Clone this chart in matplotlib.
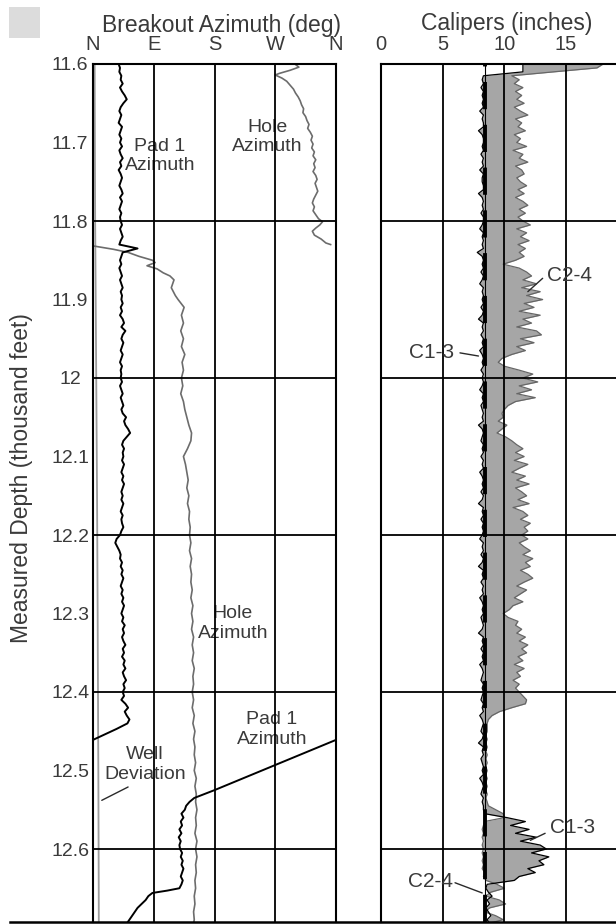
import numpy as np
import matplotlib.pyplot as plt
from matplotlib.lines import Line2D
from matplotlib.patches import Rectangle

plt.rcParams['font.family'] = ['Liberation Sans', 'DejaVu Sans']
TXT = '#3a3a3a'

# ---- breakout azimuth track (degrees clockwise from north) ----
pad1_depth_upper = np.round(np.arange(11.600, 12.4401, 0.005), 3)
pad1_az_upper = [
    38, 40, 39, 42, 41, 44, 40, 43, 47, 50,
    45, 41, 39, 42, 40, 38, 43, 41, 39, 42,
    40, 43, 39, 41, 44, 40, 42, 38, 41, 43,
    41, 39, 42, 44, 40, 43, 41, 39, 42, 40,
    41, 43, 40, 42, 44, 41, 39, 66, 44, 42,
    40, 42, 39, 41, 43, 40, 42, 44, 41, 43,
    42, 44, 41, 43, 40, 44, 46, 42, 48, 44,
    42, 45, 43, 41, 44, 42, 40, 43, 41, 42,
    41, 43, 40, 42, 44, 41, 43, 45, 42, 44,
    49, 46, 48, 52, 55, 50, 45, 43, 46, 44,
    45, 43, 46, 44, 42, 45, 43, 46, 44, 42,
    44, 42, 45, 43, 41, 44, 42, 43, 45, 42,
    40, 35, 33, 36, 39, 41, 40, 43, 41, 44,
    42, 45, 43, 41, 44, 42, 45, 43, 46, 44,
    42, 45, 43, 47, 44, 46, 43, 45, 48, 44,
    46, 43, 47, 45, 48, 44, 46, 49, 45, 47,
    44, 46, 42, 48, 52, 47, 50, 54, 51,
]
pad1_depth_lower = [
    12.447, 12.455, 12.461, 12.461, 12.477, 12.493, 12.509, 12.525, 12.535,
    12.540, 12.545,
    12.550, 12.555, 12.560, 12.565, 12.570, 12.575, 12.580, 12.585, 12.590,
    12.595, 12.600, 12.605, 12.610, 12.615, 12.620, 12.625, 12.630, 12.635,
    12.640, 12.645, 12.650,
    12.653, 12.656, 12.660, 12.665, 12.670, 12.675, 12.680, 12.685, 12.690,
    12.695,
]
pad1_az_lower = [
    35, 15, 0, 360, 315, 270, 225, 180, 150,
    143, 138,
    136, 131, 134, 130, 132, 128, 131, 127, 130,
    128, 129, 132, 130, 133, 131, 134, 132, 130,
    133, 131, 128,
    110, 88, 82, 78, 72, 66, 62, 58, 54,
    50,
]

hole_depth_top = [
    11.600, 11.604, 11.608, 11.612, 11.614, 11.618, 11.622, 11.627, 11.632,
    11.637, 11.642, 11.647, 11.652, 11.657, 11.662, 11.667, 11.672, 11.677,
    11.682, 11.687, 11.692, 11.697, 11.702, 11.707, 11.712, 11.717, 11.722,
    11.727, 11.732, 11.737, 11.742, 11.747, 11.752, 11.757, 11.762, 11.767,
    11.772, 11.777, 11.782, 11.787, 11.792, 11.797, 11.801, 11.805, 11.809,
    11.813, 11.818, 11.823, 11.828, 11.830,
    11.832, 11.836, 11.840, 11.845, 11.850, 11.853, 11.857, 11.861, 11.866,
    11.870, 11.875, 11.880, 11.885, 11.890, 11.895,
]
hole_az_top = [
    299, 305, 292, 276, 270, 280, 287, 292, 297,
    300, 304, 307, 309, 312, 311, 315, 317, 320,
    318, 322, 325, 323, 326, 324, 328, 326, 330,
    327, 329, 326, 330, 332, 329, 331, 333, 330,
    327, 325, 328, 326, 330, 334, 340, 336, 330,
    325, 328, 338, 345, 352,
    2, 30, 52, 68, 88, 92, 80, 95, 104,
    114, 120, 118, 116, 119, 122,
]
hole_depth_low = np.round(np.arange(11.90, 12.7001, 0.01), 2)
hole_az_low = [
    126, 135, 131, 134, 130, 134, 131, 136, 132, 134,
    131, 133, 130, 134, 136, 139, 142, 146, 145, 140,
    134, 137, 139, 141, 139, 142, 140, 143, 142, 144,
    143, 145, 143, 146, 144, 146, 145, 147, 145, 148,
    146, 148, 146, 149, 147, 149, 147, 150, 148, 149,
    147, 149, 147, 150, 148, 151, 149, 151, 150, 152,
    150, 153, 151, 153, 152, 154, 152, 153, 151, 154,
    152, 154, 152, 153, 151, 152, 150, 151, 149, 150,
    148,
]

dev_depth = [11.60, 11.65, 11.70, 11.75, 11.80, 11.85, 11.90, 11.95, 12.00,
             12.05, 12.10, 12.15, 12.20, 12.25, 12.30, 12.35, 12.40, 12.45,
             12.50, 12.55, 12.60, 12.65, 12.70]
dev_deg = [2.5, 2.6, 2.8, 3.0, 3.2, 3.6, 4.0, 4.4, 4.8, 5.2, 5.6, 6.0,
           6.3, 6.6, 6.9, 7.1, 7.4, 7.6, 7.9, 8.1, 8.3, 8.5, 8.6]

# ---- caliper track (inches) ----
cal_depth = np.round(np.arange(11.600, 12.6951, 0.005), 3)
c13 = [
    11.5, 11.5, 11.5, 8.3, 8.2, 8.3, 8.1, 8.3, 8.2, 8.3,
    8.2, 8.3, 8.0, 8.3, 8.2, 8.3, 8.3, 7.9, 8.2, 8.3,
    8.3, 8.2, 8.3, 8.1, 8.3, 8.2, 8.3, 8.0, 8.3, 8.2,
    8.2, 8.3, 8.3, 7.9, 8.2, 8.3, 8.2, 8.3, 8.1, 8.3,
    8.3, 8.2, 8.0, 8.3, 8.2, 8.3, 8.2, 8.3, 7.8, 8.2,
    8.3, 8.2, 8.3, 8.1, 8.3, 8.2, 8.0, 8.3, 8.2, 8.3,
    8.2, 8.3, 8.1, 8.3, 8.2, 7.9, 8.3, 8.2, 8.3, 8.1,
    8.3, 8.2, 8.3, 8.0, 8.2, 8.3, 8.2, 8.3, 8.1, 8.3,
    8.2, 8.3, 8.2, 8.0, 8.3, 8.2, 8.3, 8.1, 8.2, 8.3,
    8.2, 8.3, 7.9, 8.2, 8.3, 8.2, 8.1, 8.3, 8.2, 8.3,
    8.1, 8.3, 8.2, 8.3, 8.0, 8.2, 8.3, 8.2, 8.3, 8.1,
    8.3, 8.2, 7.9, 8.3, 8.2, 8.3, 8.1, 8.3, 8.2, 8.3,
    8.2, 8.0, 8.3, 8.2, 8.3, 8.1, 8.3, 8.2, 7.9, 8.3,
    8.2, 8.3, 8.1, 8.3, 8.2, 8.3, 8.0, 8.2, 8.3, 8.2,
    8.3, 8.1, 8.2, 8.3, 8.2, 7.9, 8.3, 8.2, 8.3, 8.1,
    8.3, 8.2, 8.3, 8.0, 8.2, 8.3, 8.2, 8.1, 8.3, 8.2,
    8.3, 8.2, 8.1, 8.3, 8.2, 8.3, 8.0, 8.2, 8.3, 8.2,
    8.1, 8.3, 8.2, 7.9, 8.3, 8.2, 8.3, 8.1, 8.2, 8.3,
    8.2, 8.3, 8.0, 8.2, 8.3, 8.2, 8.1, 8.3, 8.2, 8.3,
    8.3, 8.4, 10.2, 11.7, 10.5, 12.0, 10.9, 12.6, 11.3, 12.9,
    13.4, 12.2, 13.6, 12.8, 13.2, 11.9, 12.5, 11.2, 10.8, 8.6,
    8.5, 8.7, 9.0, 8.6, 8.8, 8.5, 8.7, 8.9, 8.6, 8.8,
]
c24 = [
    18.0, 17.5, 14.0, 10.6, 11.2, 10.8, 11.5, 10.9, 11.4, 11.0,
    11.6, 10.8, 11.3, 11.9, 10.9, 11.4, 11.1, 11.7, 10.8, 11.3,
    11.0, 11.8, 10.7, 11.5, 11.2, 11.9, 10.9, 11.4, 11.6, 11.0,
    11.3, 11.8, 11.1, 11.6, 10.9, 11.5, 11.9, 11.2, 11.7, 11.1,
    11.5, 12.1, 11.0, 11.8, 11.3, 12.0, 11.1, 11.7, 11.2, 11.6,
    10.9, 9.9, 11.2, 11.8, 12.2, 11.5, 12.6, 11.4, 12.9, 11.8,
    13.1, 11.6, 12.4, 11.2, 12.9, 11.5, 12.2, 11.0, 12.6, 13.0,
    11.3, 12.4, 11.0, 11.7, 10.6, 9.8, 9.5, 10.0, 11.2, 12.3,
    11.5, 12.7, 11.2, 12.2, 11.0, 12.5, 10.9, 10.3, 10.0, 9.8,
    9.9, 9.5, 10.2, 9.8, 9.4, 10.1, 10.6, 11.0, 11.5, 10.9,
    11.6, 10.8, 11.9, 11.2, 10.6, 11.7, 11.0, 12.0, 10.9, 11.4,
    11.8, 11.1, 12.0, 10.7, 11.5, 11.9, 11.3, 12.1, 11.6, 11.9,
    11.4, 11.9, 11.2, 11.6, 12.1, 11.5, 12.3, 11.7, 12.1, 11.3,
    11.9, 12.3, 11.6, 11.0, 11.8, 11.3, 10.8, 11.5, 10.7, 10.4,
    9.9, 10.3, 11.1, 10.9, 11.4, 11.0, 11.7, 11.2, 11.9, 11.4,
    11.8, 11.1, 11.5, 10.8, 11.6, 11.0, 11.3, 10.7, 11.2, 10.9,
    11.2, 11.5, 11.8, 11.7, 10.6, 9.6, 9.0, 8.7, 8.6, 8.6,
    8.6, 8.5, 8.6, 8.5, 8.6, 8.5, 8.6, 8.5, 8.6, 8.5,
    8.6, 8.5, 8.6, 8.5, 8.6, 8.5, 8.6, 8.5, 8.6, 8.7,
    9.3, 9.9, 10.0, 8.4, 8.3, 8.2, 8.3, 8.2, 8.3, 8.2,
    8.3, 8.2, 8.3, 8.2, 8.3, 8.2, 8.4, 8.3, 8.5, 9.4,
    10.0, 8.9, 8.5, 9.6, 10.1, 8.8, 8.4, 9.3, 9.9, 8.7,
]
bit_size = 8.45

az_ticks = [0, 90, 180, 270, 360]
az_labels = ['N', 'E', 'S', 'W', 'N']
cal_ticks = [0, 5, 10, 15]
depth_ticks = [11.6, 11.7, 11.8, 11.9, 12.0, 12.1, 12.2, 12.3, 12.4, 12.5, 12.6]
depth_labels = ['11.6', '11.7', '11.8', '11.9', '12', '12.1', '12.2',
                '12.3', '12.4', '12.5', '12.6']
grid_depths = [11.8, 12.0, 12.2, 12.4, 12.6]


def break_wraps(az, depth):
    # insert gaps where the azimuth wraps through north
    az = np.asarray(az, float)
    depth = np.asarray(depth, float)
    cut = np.where(np.abs(np.diff(az)) > 180)[0] + 1
    return np.insert(az, cut, np.nan), np.insert(depth, cut, np.nan)


W, H = 616, 924
fig = plt.figure(figsize=(W / 100, H / 100), dpi=100)


def box(x0, y0, w, h):
    return [x0 / W, 1 - (y0 + h) / H, w / W, h / H]


ax1 = fig.add_axes(box(93, 64, 243, 858))
ax2 = fig.add_axes(box(381, 64, 235, 858))
depth_bottom = 11.6 + 858 / 785

# azimuth track
pad1_az, pad1_d = break_wraps(pad1_az_upper + pad1_az_lower,
                              list(pad1_depth_upper) + pad1_depth_lower)
hole_az, hole_d = break_wraps(hole_az_top + hole_az_low,
                              hole_depth_top + list(hole_depth_low))
ax1.plot(dev_deg, dev_depth, color='#9c9c9c', lw=1.3, zorder=2)
ax1.plot(hole_az, hole_d, color='#6c6c6c', lw=1.2, zorder=2)
ax1.plot(pad1_az, pad1_d, color='black', lw=1.4, zorder=2)
for a in az_ticks[1:-1]:
    ax1.axvline(a, color='black', lw=1.3, zorder=3)
for d in grid_depths:
    ax1.axhline(d, color='black', lw=1.3, zorder=3)
ax1.set_xlim(0, 360)
ax1.set_ylim(depth_bottom, 11.6)
ax1.xaxis.tick_top()
ax1.set_xticks(az_ticks, az_labels)
ax1.set_yticks(depth_ticks, depth_labels)
ax1.tick_params(axis='x', length=0, pad=7, labelsize=14.5, labelcolor=TXT)
ax1.tick_params(axis='y', length=0, pad=16.5, labelsize=14, labelcolor=TXT)
for lbl in ax1.get_yticklabels():
    lbl.set_horizontalalignment('center')

lab = dict(ha='center', va='center', fontsize=14, color=TXT, zorder=2.5)
ax1.text(99, 11.717, 'Pad 1\nAzimuth', **lab)
ax1.text(258, 11.693, 'Hole\nAzimuth', **lab)
ax1.text(207, 12.313, 'Hole\nAzimuth', **lab)
ax1.text(265, 12.448, 'Pad 1\nAzimuth', **lab)
ax1.text(77, 12.492, 'Well\nDeviation', **lab)
lead = dict(arrowstyle='-', color='#2a2a2a', lw=1.0, shrinkA=0, shrinkB=0)
ax1.annotate('', xy=(13, 12.538), xytext=(52, 12.521), arrowprops=lead)

# caliper track
ax2.fill_betweenx(cal_depth, c13, c24, color='#a6a6a6', lw=0, zorder=1)
ax2.plot(c24, cal_depth, color='#666666', lw=0.9, zorder=2)
ax2.plot(c13, cal_depth, color='black', lw=0.9, zorder=2)
ax2.axvline(bit_size, color='black', lw=0.8, zorder=2)
ax2.axvline(bit_size, color='black', lw=2.8, dashes=(7, 4), zorder=2)
for c in cal_ticks[1:]:
    ax2.axvline(c, color='black', lw=1.3, zorder=3)
for d in grid_depths:
    ax2.axhline(d, color='black', lw=1.3, zorder=3)
ax2.set_xlim(0, 235 / 12.34)
ax2.set_ylim(depth_bottom, 11.6)
ax2.xaxis.tick_top()
ax2.set_xticks(cal_ticks, [str(c) for c in cal_ticks])
ax2.set_yticks([])
ax2.tick_params(axis='x', length=0, pad=7, labelsize=14.5, labelcolor=TXT)

clab = dict(ha='center', va='center', fontsize=15, color=TXT, zorder=4)
ax2.text(15.3, 11.869, 'C2-4', **clab)
ax2.text(4.1, 11.968, 'C1-3', **clab)
ax2.text(15.5, 12.573, 'C1-3', **clab)
ax2.text(4.0, 12.642, 'C2-4', **clab)
ax2.annotate('', xy=(11.9, 11.890), xytext=(13.1, 11.873), arrowprops=lead)
ax2.annotate('', xy=(7.9, 11.972), xytext=(6.4, 11.968), arrowprops=lead)
ax2.annotate('', xy=(12.1, 12.589), xytext=(13.3, 12.580), arrowprops=lead)
ax2.annotate('', xy=(8.2, 12.656), xytext=(6.0, 12.643), arrowprops=lead)

for ax in (ax1, ax2):
    ax.spines['bottom'].set_visible(False)
    for s in ax.spines.values():
        s.set_linewidth(1.5)
ax2.spines['right'].set_visible(False)

fig.text(221 / W, 1 - 32 / H, 'Breakout Azimuth (deg)', ha='center',
         va='baseline', fontsize=16.5, color=TXT)
fig.text(507 / W, 1 - 30 / H, 'Calipers (inches)', ha='center',
         va='baseline', fontsize=16.5, color=TXT)
fig.text(22 / W, 1 - 478 / H, 'Measured Depth (thousand feet)', rotation=90,
         ha='center', va='center', fontsize=16.5, color=TXT)

fig.add_artist(Rectangle((9 / W, 1 - 38 / H), 31 / W, 31 / H,
                         transform=fig.transFigure, color='#dcdcdc', lw=0))
fig.add_artist(Line2D([10 / W, 1], [1 - 921.5 / H] * 2,
                      transform=fig.transFigure, color='black', lw=1.8))

fig.savefig('out.png', dpi=100)
